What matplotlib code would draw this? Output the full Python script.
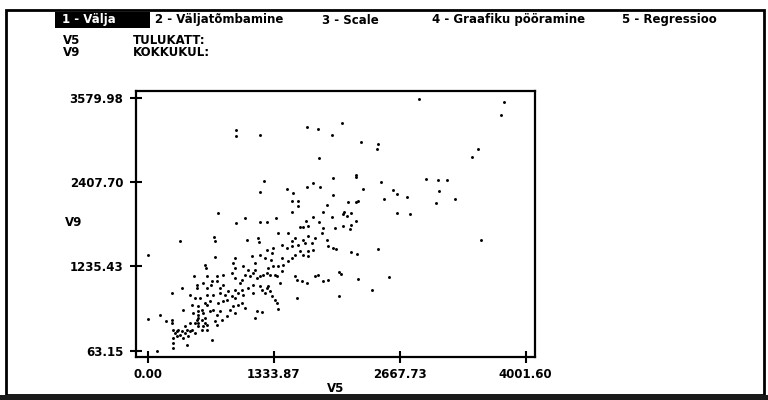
import matplotlib
matplotlib.use("Agg")
import matplotlib.pyplot as plt
from matplotlib.patches import Rectangle

# values (V5 = TULUKATT, V9 = KOKKUKUL)
v5 = [935, 935, 1189, 1690, 1803, 1955, 1818, 1228, 1962, 1690, 1754, 1825, 1186, 1479, 1535, 1966,
      1525, 1595, 1595, 1895, 1525, 1860, 748, 1034, 1359, 1747, 1948, 1673, 1818, 1189, 1260, 935,
      2876, 3772, 3744, 2061, 2258, 2438, 2428, 3500, 3433, 2202, 2202, 2946, 3077, 3169, 2470, 2279,
      2601, 2636, 3081, 2742, 2505, 3250, 2117, 2202, 2223, 3049, 2082, 2071, 2110, 2152, 2636, 2781, 2202,
      1987, 2068, 2152, 2142, 3525, 1994, 2156, 2219, 2435, 2025, 2050, 2226, 2551, 2375, 2029,
      1613, 1648, 1701, 1383, 1489, 1860, 342, 706, 713, 1048, 1172, 1179, 1419, 1525, 1472, 1595,
      1648, 1701, 1772, 1736, 1895, 1913, 1966, 0, 713, 925, 907, 925, 1013, 1101, 1136, 1189,
      1242, 1260, 1313, 1331, 1306, 1419, 1436, 1489, 1525, 1560, 1613, 1648, 1701, 1701, 1754, 1383,
      1419, 1331, 1278, 607, 614, 494, 519, 519, 589, 625, 685, 731, 731, 801, 889, 925,
      978, 995, 1031, 1066, 1084, 1119, 1136, 1154, 1189, 1225, 1260, 1295, 1348, 1366, 1560, 1578,
      1631, 1683, 1772, 1807, 1860, 1913, 1401, 360, 261, 448, 501, 554, 625, 660, 607, 625,
      695, 766, 819, 854, 925, 960, 889, 836, 801, 748, 995, 1013, 1066, 1119, 1119, 1189,
      1207, 1260, 1278, 1295, 1313, 1348, 1366, 1242, 1578, 466, 537, 529, 529, 519, 572, 589,
      572, 607, 589, 625, 484, 501, 448, 395, 378, 660, 695, 731, 766, 791, 836, 872,
      925, 907, 960, 995, 1031, 925, 713, 731, 1154, 1207, 1136, 1376, 131, 191, 254, 261,
      0, 272, 289, 307, 265, 272, 272, 325, 360, 413, 448, 431, 378, 413, 678, 95,
      529, 529, 529, 607, 625, 572, 466, 501, 307, 342, 395, 766, 801, 625, 671, 1560,
      1842, 1525, 1666]
v9 = [3139, 3056, 3070, 3172, 3148, 3070, 2740, 2425, 2466, 2346, 2392, 2337, 2272, 2313, 2258, 2225,
      2151, 2151, 2077, 2086, 1998, 1998, 1979, 1910, 1910, 1919, 1919, 1863, 1849, 1849, 1849, 1840,
      3566, 3524, 3348, 3237, 2967, 2940, 2875, 2875, 2754, 2504, 2476, 2453, 2439, 2439, 2415, 2309,
      2295, 2248, 2286, 2207, 2170, 2179, 2137, 2132, 2151, 2114, 1993, 1970, 1938, 1979, 1984, 1970, 1873,
      1770, 1798, 1817, 1756, 1608, 1483, 1432, 1409, 1483, 1158, 1130, 1056, 1084, 912, 824,
      1784, 1784, 1794, 1701, 1701, 1770, 1585, 1645, 1585, 1608, 1631, 1571, 1538, 1515, 1492, 1538,
      1608, 1654, 1631, 1562, 1608, 1515, 1492, 1390, 1362, 1353, 1283, 1214, 1237, 1376, 1283, 1399,
      1353, 1469, 1422, 1492, 1330, 1353, 1260, 1307, 1353, 1399, 1446, 1399, 1446, 1376, 1469, 1237,
      1167, 1237, 1214, 1260, 1214, 1098, 982, 935, 1005, 1098, 1028, 1098, 1028, 1121, 1144, 1075,
      1005, 1051, 1121, 1191, 1098, 1144, 1191, 1075, 1098, 1121, 1144, 1121, 1121, 1098, 1098, 1051,
      1028, 1005, 1098, 1121, 1028, 1051, 1005, 935, 866, 843, 796, 796, 843, 750, 727, 703,
      843, 866, 843, 889, 912, 866, 819, 773, 750, 727, 912, 843, 935, 866, 982, 959,
      912, 935, 959, 889, 819, 773, 727, 866, 796, 703, 680, 611, 564, 495, 634, 587,
      495, 448, 402, 425, 587, 448, 448, 402, 634, 611, 634, 564, 611, 495, 541, 634,
      587, 680, 703, 727, 657, 796, 471, 425, 611, 597, 518, 643, 564, 471, 495, 448,
      504, 356, 309, 332, 240, 170, 100, 356, 332, 356, 332, 263, 240, 147, 216, 63,
      518, 448, 402, 518, 356, 356, 356, 309, 263, 286, 309, 935, 982, 935, 982, 1631,
      1701, 1585, 1562]

x_ticks = [0.00, 1333.87, 2667.73, 4001.60]
y_ticks = [63.15, 1235.43, 2407.70, 3579.98]
menu = ["2 - Väljatõmbamine", "3 - Scale", "4 - Graafiku pööramine", "5 - Regressioo"]
menu_x = [155, 322, 432, 622]

plt.rcParams['font.family'] = 'DejaVu Sans'
plt.rcParams['font.weight'] = 'bold'

W, H = 768, 400
fig = plt.figure(figsize=(7.68, 4.0), dpi=100)


def fx(x):
    return x / W


def fy(y):
    return 1 - y / H


# screen border and dark strip at the bottom
fig.add_artist(Rectangle((fx(6), fy(395)), fx(764) - fx(6), fy(10) - fy(395),
                         transform=fig.transFigure, fill=False, lw=2, ec='black'))
fig.add_artist(Rectangle((0, 0), 1, fy(395), transform=fig.transFigure,
                         fc='#1a1a1a', ec='none'))

# menu bar, first item highlighted
fig.add_artist(Rectangle((fx(55), fy(28)), fx(150) - fx(55), fy(12) - fy(28),
                         transform=fig.transFigure, fc='black', ec='none'))
fig.text(fx(62), fy(20), "1 - Välja", color='white', fontsize=8.5, va='center')
for label, x in zip(menu, menu_x):
    fig.text(fx(x), fy(20), label, fontsize=8.5, va='center')

fig.text(fx(63), fy(41), "V5", fontsize=8.5, va='center')
fig.text(fx(133), fy(41), "TULUKATT:", fontsize=8.5, va='center')
fig.text(fx(63), fy(53), "V9", fontsize=8.5, va='center')
fig.text(fx(133), fy(53), "KOKKUKUL:", fontsize=8.5, va='center')

ax = fig.add_axes([fx(136), fy(357.3), fx(535) - fx(136), fy(90.7) - fy(357.3)])
ax.scatter(v5, v9, s=4.5, c='black', marker='o', linewidths=0)
ax.set_xlim(-124, 4100)
ax.set_ylim(-29, 3682)

ax.set_xticks(x_ticks)
ax.set_xticklabels([f"{v:.2f}" for v in x_ticks])
ax.set_yticks(y_ticks)
ax.set_yticklabels([f"{v:.2f}" for v in y_ticks])
ax.tick_params(direction='inout', length=8, width=1.5, labelsize=8.5, pad=4)
ax.tick_params(axis='y', pad=5)
for sp in ax.spines.values():
    sp.set_linewidth(1.6)

fig.text(fx(336), fy(389), "V5", fontsize=8.5, ha='center', va='center')
fig.text(fx(65), fy(223), "V9", fontsize=8.5, va='center')

fig.savefig('out.png', dpi=100)
